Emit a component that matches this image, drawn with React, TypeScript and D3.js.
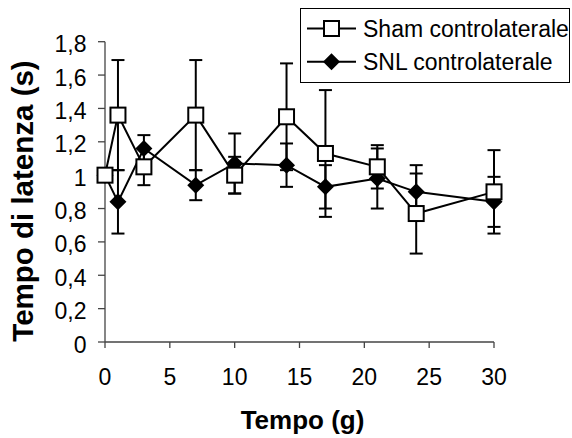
import React from "react";
import * as d3 from "d3";

const days = [0, 1, 3, 7, 10, 14, 17, 21, 24, 30];
const shamValues = [1.0, 1.36, 1.05, 1.36, 1.0, 1.35, 1.13, 1.05, 0.77, 0.9];
const shamErrors = [0, 0.33, 0.11, 0.33, 0.11, 0.32, 0.38, 0.13, 0.24, 0.25];
const snlValues = [1.0, 0.84, 1.16, 0.94, 1.07, 1.06, 0.93, 0.98, 0.9, 0.84];
const snlErrors = [0, 0.19, 0.08, 0.09, 0.18, 0.13, 0.13, 0.18, 0.16, 0.15];
const xTicks = [0, 5, 10, 15, 20, 25, 30];
const yTicks = [0, 0.2, 0.4, 0.6, 0.8, 1, 1.2, 1.4, 1.6, 1.8];
const seriesNames = ["Sham controlaterale", "SNL controlaterale"];

const W = 572;
const H = 438;
const FONT = "'Liberation Sans', Arial, sans-serif";

export default function App() {
  const x = d3.scaleLinear().domain([0, 30]).range([105, 494]);
  const y = d3.scaleLinear().domain([0, 1.8]).range([342, 41.7]);
  const line = d3
    .line<[number, number]>()
    .x((d) => x(d[0]))
    .y((d) => y(d[1]));
  const fmt = (v: number) => String(Math.round(v * 10) / 10).replace(".", ",");

  const sham = days.map((d, i) => [d, shamValues[i]] as [number, number]);
  const snl = days.map((d, i) => [d, snlValues[i]] as [number, number]);
  const cap = 6.5;
  const sq = 7.5;
  const dm = 8.5;

  const errBars = (vals: number[], errs: number[], key: string) =>
    days.map((d, i) => {
      if (!errs[i]) return null;
      const cx = x(d);
      const y1 = y(vals[i] + errs[i]);
      const y2 = y(vals[i] - errs[i]);
      return (
        <g key={key + i} stroke="#000" strokeWidth={2}>
          <line x1={cx} x2={cx} y1={y1} y2={y2} />
          <line x1={cx - cap} x2={cx + cap} y1={y1} y2={y1} />
          <line x1={cx - cap} x2={cx + cap} y1={y2} y2={y2} />
        </g>
      );
    });

  const diamond = (cx: number, cy: number, r: number) =>
    `M${cx},${cy - r}L${cx + r},${cy}L${cx},${cy + r}L${cx - r},${cy}Z`;

  return (
    <svg width={W} height={H} style={{ position: "absolute", left: 0, top: 0 }}>
      <rect x={0} y={0} width={W} height={H} fill="#fff" />
      {/* axes */}
      <line x1={105} x2={105} y1={y(1.8)} y2={y(0)} stroke="#444" strokeWidth={1.3} />
      <line x1={105} x2={x(30)} y1={y(0)} y2={y(0)} stroke="#444" strokeWidth={1.3} />
      {yTicks.map((t) => (
        <g key={"y" + t}>
          <line x1={98} x2={105} y1={y(t)} y2={y(t)} stroke="#444" strokeWidth={1.3} />
          <text x={86.5} y={y(t) + 10.5} textAnchor="end" fontFamily={FONT} fontSize={23} fill="#000">
            {fmt(t)}
          </text>
        </g>
      ))}
      {xTicks.map((t) => (
        <g key={"x" + t}>
          <line x1={x(t)} x2={x(t)} y1={y(0)} y2={y(0) + 6} stroke="#444" strokeWidth={1.3} />
          <text x={x(t)} y={385} textAnchor="middle" fontFamily={FONT} fontSize={23} fill="#000">
            {t}
          </text>
        </g>
      ))}
      <text x={302.5} y={429} textAnchor="middle" fontFamily={FONT} fontSize={26} fontWeight="bold">
        Tempo (g)
      </text>
      <text
        transform={`translate(33,201) rotate(-90)`}
        textAnchor="middle"
        fontFamily={FONT}
        fontSize={29.5}
        fontWeight="bold"
      >
        Tempo di latenza (s)
      </text>

      {/* SNL series */}
      <path d={line(snl) || ""} fill="none" stroke="#000" strokeWidth={2} />
      {errBars(snlValues, snlErrors, "snl")}
      {snl.map((p, i) => (
        <path key={"sd" + i} d={diamond(x(p[0]), y(p[1]), dm)} fill="#000" />
      ))}

      {/* Sham series */}
      <path d={line(sham) || ""} fill="none" stroke="#000" strokeWidth={2} />
      {errBars(shamValues, shamErrors, "sham")}
      {sham.map((p, i) => (
        <rect
          key={"ss" + i}
          x={x(p[0]) - sq}
          y={y(p[1]) - sq}
          width={sq * 2}
          height={sq * 2}
          fill="#fff"
          stroke="#000"
          strokeWidth={2}
        />
      ))}

      {/* legend */}
      <rect x={300.5} y={8.5} width={269} height={74} fill="#fff" stroke="#000" strokeWidth={1} />
      <line x1={307} x2={356} y1={28.5} y2={28.5} stroke="#000" strokeWidth={2} />
      <rect x={331.5 - sq} y={28.5 - sq} width={sq * 2} height={sq * 2} fill="#fff" stroke="#000" strokeWidth={2} />
      <text x={363} y={36.5} fontFamily={FONT} fontSize={23}>
        {seriesNames[0]}
      </text>
      <line x1={307} x2={356} y1={61.7} y2={61.7} stroke="#000" strokeWidth={2} />
      <path d={diamond(331.5, 61.7, dm)} fill="#000" />
      <text x={363} y={69.5} fontFamily={FONT} fontSize={23}>
        {seriesNames[1]}
      </text>
    </svg>
  );
}
